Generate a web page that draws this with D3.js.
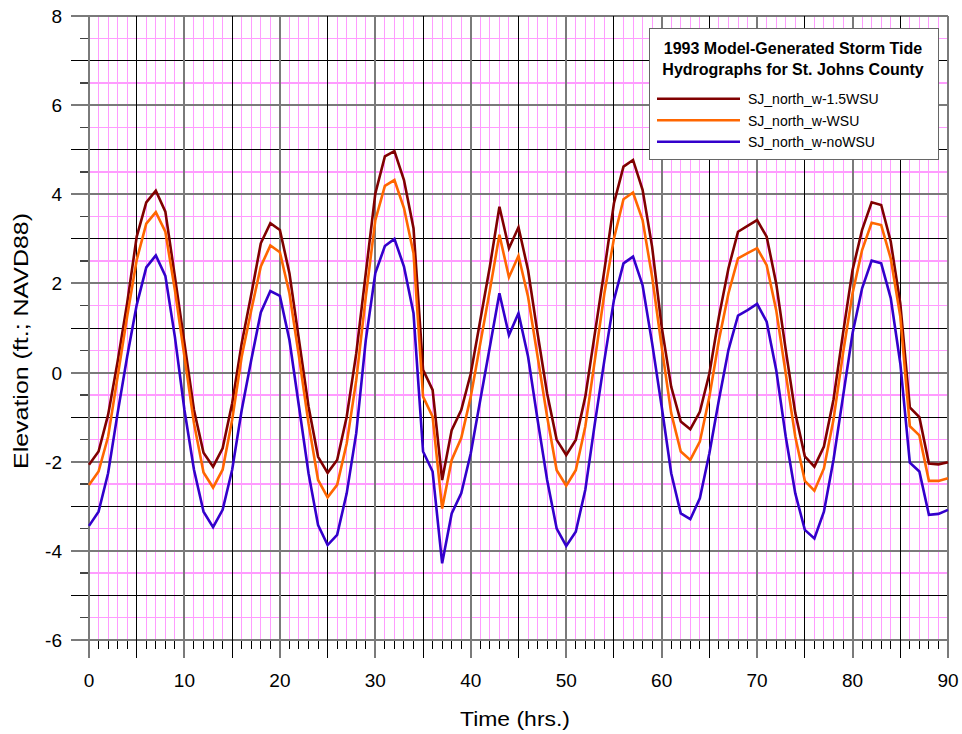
<!DOCTYPE html>
<html>
<head>
<meta charset="utf-8">
<script src="https://cdn.jsdelivr.net/npm/d3@7"></script>
<style>
  html, body { margin: 0; padding: 0; background: #fff; }
  svg { display: block; font-family: "Liberation Sans", Arial, sans-serif; }
</style>
</head>
<body>
<svg id="chart" width="962" height="734"></svg>
<script>
// ---- data ----
const hours = d3.range(0, 91); // 0..90 hourly
const seriesNames = ["SJ_north_w-1.5WSU", "SJ_north_w-WSU", "SJ_north_w-noWSU"];
const seriesColors = ["#800000", "#FF6600", "#3300CC"];
const s15WSU = [-2.07,-1.77,-0.95,0.25,1.56,3.05,3.82,4.08,3.61,2.15,0.66,-0.84,-1.80,-2.11,-1.70,-0.69,0.66,1.75,2.90,3.35,3.20,
  2.23,0.73,-0.76,-1.89,-2.25,-1.96,-0.99,0.43,2.23,4.02,4.85,4.97,4.32,3.24,0.06,-0.39,-2.41,-1.29,-0.84,-0.02,1.18,2.38,3.72,2.79,3.26,
  2.30,0.88,-0.47,-1.51,-1.85,-1.51,-0.54,0.88,2.30,3.80,4.62,4.77,4.10,2.82,1.03,-0.32,-1.10,-1.27,-0.88,-0.02,1.25,2.34,3.16,3.29,3.42,
  3.05,2.00,0.51,-0.91,-1.88,-2.11,-1.66,-0.61,0.88,2.30,3.20,3.82,3.76,2.94,1.55,-0.78,-1.00,-2.04,-2.06,-2.01];
const sWSU = [-2.52,-2.22,-1.44,-0.09,1.26,2.53,3.34,3.60,3.16,1.85,0.36,-1.14,-2.24,-2.58,-2.18,-1.06,0.36,1.40,2.38,2.85,2.70,
  1.78,0.36,-1.14,-2.41,-2.80,-2.52,-1.59,-0.17,1.70,3.42,4.19,4.32,3.69,2.68,-0.54,-0.99,-3.05,-1.96,-1.47,-0.54,0.66,1.85,3.09,2.14,2.62,
  1.70,0.36,-0.99,-2.19,-2.54,-2.19,-1.21,0.28,1.78,3.01,3.89,4.04,3.42,2.15,0.58,-0.91,-1.77,-1.96,-1.55,-0.54,0.73,1.78,2.56,2.68,2.79,
  2.41,1.40,-0.02,-1.44,-2.43,-2.65,-2.15,-1.06,0.43,1.78,2.75,3.36,3.31,2.56,1.26,-1.20,-1.41,-2.43,-2.43,-2.37];
const sNoWSU = [-3.44,-3.12,-2.26,-0.91,0.36,1.52,2.36,2.63,2.17,0.80,-0.84,-2.18,-3.12,-3.47,-3.08,-2.18,-0.84,0.28,1.35,1.83,1.72,
  0.73,-0.76,-2.26,-3.42,-3.87,-3.64,-2.71,-1.36,0.73,2.23,2.84,3.00,2.38,1.33,-1.77,-2.22,-4.28,-3.16,-2.71,-1.81,-0.61,0.58,1.78,0.84,1.33,
  0.36,-1.06,-2.41,-3.50,-3.89,-3.57,-2.63,-1.14,0.28,1.63,2.45,2.60,1.96,0.66,-0.76,-2.26,-3.16,-3.29,-2.82,-1.81,-0.61,0.51,1.28,1.40,1.54,
  1.14,0.06,-1.44,-2.71,-3.53,-3.72,-3.12,-1.96,-0.54,0.88,1.89,2.51,2.45,1.67,0.21,-2.02,-2.22,-3.19,-3.17,-3.08];
const xTickLabels = [0,10,20,30,40,50,60,70,80,90];
const yTickLabels = [-6,-4,-2,0,2,4,6,8];
const legendTitle = ["1993 Model-Generated Storm Tide", "Hydrographs for St. Johns County"];
const xTitle = "Time (hrs.)";
const yTitle = "Elevation (ft.; NAVD88)";

// ---- layout ----
const svg = d3.select("#chart");
const x = d3.scaleLinear().domain([0, 90]).range([89, 948]);
const y = d3.scaleLinear().domain([-6, 8]).range([640, 16]);
const [x0, x1] = x.range();
const [y0, y1] = y.range();

const PINK = "#ff9cff", GRAY = "#7a7a7a", BLACK = "#000";

const g = svg.append("g").attr("shape-rendering", "crispEdges");

// horizontal grid
const hHalf = d3.range(-5.5, 8, 1);
const hInt = d3.range(-6, 9, 1);
g.append("g").selectAll("line").data(hHalf).join("line")
  .attr("x1", x0 - 9).attr("x2", x1)
  .attr("y1", d => y(d)).attr("y2", d => y(d))
  .attr("stroke", PINK).attr("stroke-width", 1.5);
// half-unit tick stubs
g.append("g").selectAll("line").data(hHalf).join("line")
  .attr("x1", x0 - 9).attr("x2", x0)
  .attr("y1", d => y(d)).attr("y2", d => y(d))
  .attr("stroke", "#444").attr("stroke-width", 1.5);

// vertical grid pink (every hour not multiple of 5)
const vMinor = d3.range(0, 91).filter(d => d % 5 !== 0);
g.append("g").selectAll("line").data(vMinor).join("line")
  .attr("x1", d => x(d)).attr("x2", d => x(d))
  .attr("y1", y1).attr("y2", y0)
  .attr("stroke", PINK).attr("stroke-width", 1);
// minor tick stubs below the axis
g.append("g").selectAll("line").data(vMinor).join("line")
  .attr("x1", d => x(d)).attr("x2", d => x(d))
  .attr("y1", y0).attr("y2", y0 + 9)
  .attr("stroke", BLACK).attr("stroke-width", 1);

// integer horizontal lines
g.append("g").selectAll("line").data(hInt).join("line")
  .attr("x1", x0 - 18).attr("x2", x1)
  .attr("y1", d => y(d)).attr("y2", d => y(d))
  .attr("stroke", d => (Math.abs(d) % 2 === 0) ? GRAY : BLACK)
  .attr("stroke-width", d => (Math.abs(d) % 2 === 0) ? 2 : 1);

// major vertical lines every 5
const vMajor = d3.range(0, 91, 5);
g.append("g").selectAll("line").data(vMajor).join("line")
  .attr("x1", d => x(d)).attr("x2", d => x(d))
  .attr("y1", y1).attr("y2", y0 + 18)
  .attr("stroke", d => d % 10 === 0 ? GRAY : BLACK)
  .attr("stroke-width", d => d % 10 === 0 ? 2 : 1);

// tick labels
g.append("g").selectAll("text").data(xTickLabels).join("text")
  .attr("x", d => x(d)).attr("y", 687)
  .attr("text-anchor", "middle")
  .attr("font-size", 19).attr("fill", "#000")
  .text(d => d);
g.append("g").selectAll("text").data(yTickLabels).join("text")
  .attr("x", 62).attr("y", d => y(d) + 7)
  .attr("text-anchor", "end")
  .attr("font-size", 19).attr("fill", "#000")
  .text(d => d);

// axis titles
svg.append("text")
  .attr("x", 515).attr("y", 726)
  .attr("text-anchor", "middle")
  .attr("font-size", 21)
  .attr("textLength", 110).attr("lengthAdjust", "spacingAndGlyphs")
  .text(xTitle);
svg.append("text")
  .attr("transform", "translate(28,341) rotate(-90)")
  .attr("text-anchor", "middle")
  .attr("font-size", 21)
  .attr("textLength", 256).attr("lengthAdjust", "spacingAndGlyphs")
  .text(yTitle);

// series
const allSeries = [s15WSU, sWSU, sNoWSU];
const line = d3.line().x((d, i) => x(hours[i])).y(d => y(d));
svg.append("g").selectAll("path").data(allSeries).join("path")
  .attr("d", d => line(d))
  .attr("fill", "none")
  .attr("stroke", (d, i) => seriesColors[i])
  .attr("stroke-width", 2.6)
  .attr("stroke-linejoin", "miter");

// legend
const lg = svg.append("g");
lg.append("rect")
  .attr("x", 649.5).attr("y", 28.5).attr("width", 289).attr("height", 131)
  .attr("fill", "#fff").attr("stroke", "#666").attr("stroke-width", 1);
lg.selectAll("text.title").data(legendTitle).join("text")
  .attr("class", "title")
  .attr("x", 793).attr("y", (d, i) => 54 + i * 21)
  .attr("text-anchor", "middle")
  .attr("font-size", 16).attr("font-weight", "bold")
  .text(d => d);
const items = lg.selectAll("g.item").data(seriesNames).join("g").attr("class", "item");
items.append("line")
  .attr("x1", 657).attr("x2", 740)
  .attr("y1", (d, i) => 98.7 + i * 21.5).attr("y2", (d, i) => 98.7 + i * 21.5)
  .attr("stroke", (d, i) => seriesColors[i]).attr("stroke-width", 2.6);
items.append("text")
  .attr("x", 748).attr("y", (d, i) => 104 + i * 21.5)
  .attr("font-size", 14)
  .text(d => d);
</script>
</body>
</html>
